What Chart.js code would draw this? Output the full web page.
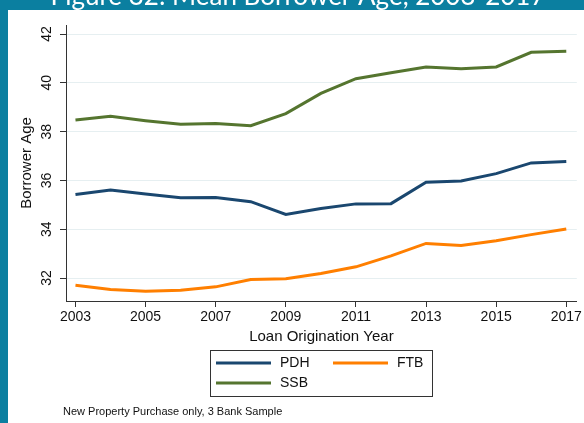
<!DOCTYPE html>
<html>
<head>
<meta charset="utf-8">
<script src="https://cdn.jsdelivr.net/npm/chart.js@4/dist/chart.umd.min.js"></script>
<style>
  html, body { margin: 0; padding: 0; background: #0B7FA0; }
  #chart { display: block; }
</style>
</head>
<body>
<canvas id="chart" width="584" height="423"></canvas>
<script>
// Mean borrower age by loan origination year
const years = [2003, 2004, 2005, 2006, 2007, 2008, 2009, 2010, 2011, 2012, 2013, 2014, 2015, 2016, 2017];
const pdh = [35.42, 35.61, 35.44, 35.29, 35.30, 35.13, 34.61, 34.85, 35.04, 35.05, 35.93, 35.98, 36.28, 36.72, 36.78];
const ftb = [31.71, 31.53, 31.46, 31.50, 31.64, 31.94, 31.97, 32.19, 32.46, 32.91, 33.42, 33.33, 33.53, 33.78, 34.01];
const ssb = [38.48, 38.63, 38.45, 38.30, 38.33, 38.24, 38.74, 39.57, 40.17, 40.41, 40.65, 40.58, 40.65, 41.25, 41.29];
const yTicks = [32, 34, 36, 38, 40, 42];
const xTicks = [2003, 2005, 2007, 2009, 2011, 2013, 2015, 2017];

const TEAL = '#0B7FA0';
const FONT = '"Liberation Sans", Arial, sans-serif';

function toPoints(values) {
  return years.map((yr, i) => ({ x: yr, y: values[i] }));
}

// Teal frame, cut-off figure title, white panel
const framePlugin = {
  id: 'frame',
  beforeDraw(chart) {
    const ctx = chart.ctx;
    ctx.save();
    ctx.fillStyle = TEAL;
    ctx.fillRect(0, 0, chart.width, chart.height);
    ctx.fillStyle = '#ffffff';
    ctx.font = '26px Lato, sans-serif';
    ctx.textAlign = 'center';
    ctx.textBaseline = 'alphabetic';
    ctx.fillText('Figure 32: Mean Borrower Age, 2003-2017', 298, 5);
    ctx.fillRect(8, 10, chart.width - 8, chart.height - 10);
    ctx.restore();
  }
};

// Rotated y tick labels, axis titles, boxed legend and footnote
const extrasPlugin = {
  id: 'extras',
  afterDraw(chart) {
    const ctx = chart.ctx;
    const area = chart.chartArea;
    const yScale = chart.scales.y;
    ctx.save();
    ctx.fillStyle = '#111';
    ctx.font = '14px ' + FONT;
    ctx.textAlign = 'center';
    ctx.textBaseline = 'middle';

    // y tick labels, reading bottom to top
    yTicks.forEach(v => {
      const py = yScale.getPixelForValue(v);
      ctx.save();
      ctx.translate(47, py);
      ctx.rotate(-Math.PI / 2);
      ctx.fillText(String(v), 0, 0);
      ctx.restore();
    });

    // axis titles
    ctx.font = '15px ' + FONT;
    ctx.save();
    ctx.translate(27, (area.top + area.bottom) / 2);
    ctx.rotate(-Math.PI / 2);
    ctx.fillText('Borrower Age', 0, 0);
    ctx.restore();
    ctx.fillText('Loan Origination Year', (area.left + area.right) / 2, 337);

    // legend box
    ctx.font = '14px ' + FONT;
    ctx.strokeStyle = '#333';
    ctx.lineWidth = 1;
    ctx.strokeRect(210.5, 350.5, 222, 46);
    const items = [
      { label: 'PDH', color: chart.data.datasets[0].borderColor, x: 216, y: 363 },
      { label: 'FTB', color: chart.data.datasets[1].borderColor, x: 333, y: 363 },
      { label: 'SSB', color: chart.data.datasets[2].borderColor, x: 216, y: 383 }
    ];
    ctx.textAlign = 'left';
    items.forEach(it => {
      ctx.strokeStyle = it.color;
      ctx.lineWidth = 3;
      ctx.beginPath();
      ctx.moveTo(it.x, it.y);
      ctx.lineTo(it.x + 55, it.y);
      ctx.stroke();
      ctx.fillText(it.label, it.x + 64, it.y);
    });

    // footnote
    ctx.font = '11px ' + FONT;
    ctx.fillText('New Property Purchase only, 3 Bank Sample', 63, 412);
    ctx.restore();
  }
};

new Chart(document.getElementById('chart'), {
  type: 'line',
  data: {
    datasets: [
      { label: 'PDH', data: toPoints(pdh), borderColor: '#1A476F' },
      { label: 'FTB', data: toPoints(ftb), borderColor: '#FF7F00' },
      { label: 'SSB', data: toPoints(ssb), borderColor: '#55752F' }
    ]
  },
  options: {
    responsive: false,
    animation: false,
    devicePixelRatio: 1,
    layout: { padding: { left: 0, top: 25, right: 7, bottom: 0 } },
    elements: {
      line: { borderWidth: 3, tension: 0, borderCapStyle: 'butt', borderJoinStyle: 'miter' },
      point: { radius: 0, hoverRadius: 0 }
    },
    plugins: {
      legend: { display: false },
      tooltip: { enabled: false }
    },
    scales: {
      x: {
        type: 'linear',
        min: 2002.73,
        max: 2017.3,
        afterBuildTicks: scale => { scale.ticks = xTicks.map(v => ({ value: v })); },
        afterFit: scale => { scale.height = 122; },
        ticks: {
          callback: v => String(v),
          color: '#111',
          font: { family: FONT, size: 14 },
          padding: 2,
          maxRotation: 0
        },
        grid: { drawOnChartArea: false, drawTicks: true, tickLength: 6, tickColor: '#333' },
        border: { color: '#333', width: 1 }
      },
      y: {
        min: 31.06,
        max: 42.37,
        afterBuildTicks: scale => { scale.ticks = yTicks.map(v => ({ value: v })); },
        afterFit: scale => { scale.width = 66; },
        ticks: { display: false },
        grid: { color: '#E6EFF1', lineWidth: 1, drawTicks: true, tickLength: 6, tickColor: '#333' },
        border: { color: '#333', width: 1 }
      }
    }
  },
  plugins: [framePlugin, extrasPlugin]
});
</script>
</body>
</html>
